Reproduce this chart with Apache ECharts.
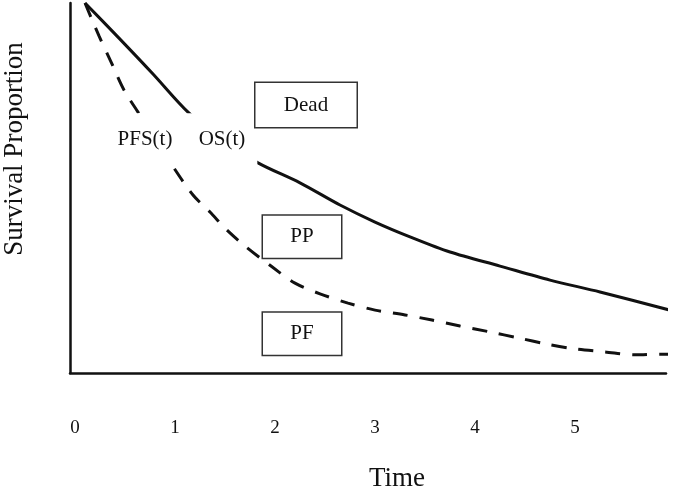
<!DOCTYPE html>
<html>
<head>
<meta charset="utf-8">
<script src="https://cdn.jsdelivr.net/npm/echarts@6/dist/echarts.min.js"></script>
<style>
  html, body { margin: 0; padding: 0; background: #fff; }
  #chart { width: 677px; height: 489px; }
</style>
</head>
<body>
<div id="chart"></div>
<script>
const INK = "#111";
const FONT = "'Liberation Serif', 'Times New Roman', serif";

// x tick labels
const tickValues = [0, 1, 2, 3, 4, 5];

// overall survival OS(t), solid
const osTime = [0.10, 0.44, 0.78, 1.13, 1.48, 1.83, 2.25, 2.65, 3.00, 3.35, 3.75, 4.25, 4.75, 5.25, 5.95];
const osSurv = [1.00, 0.905, 0.808, 0.705, 0.630, 0.568, 0.514, 0.454, 0.408, 0.368, 0.327, 0.289, 0.251, 0.219, 0.170];

// progression-free survival PFS(t), dashed
const pfsTime = [0.10, 0.24, 0.36, 0.49, 0.63, 0.97, 1.18, 1.35, 1.52, 1.71, 1.96, 2.20, 2.45, 2.73, 3.00, 3.30, 3.57, 3.85, 4.15, 4.43, 4.72, 5.00, 5.30, 5.60, 5.87, 5.95];
const pfsSurv = [1.00, 0.911, 0.841, 0.765, 0.705, 0.562, 0.481, 0.435, 0.386, 0.341, 0.289, 0.243, 0.214, 0.189, 0.170, 0.157, 0.143, 0.127, 0.111, 0.095, 0.078, 0.065, 0.057, 0.049, 0.051, 0.051];

// state boxes and curve names
const stateNames = ["Dead", "PP", "PF"];
const curveNames = ["PFS(t)", "OS(t)"];

const zip = (xs, ys) => xs.map((x, i) => [x, ys[i]]);

const chart = echarts.init(document.getElementById("chart"), null, { renderer: "canvas" });

// where the annotations sit, in data units
const stateAt = [[2.31, 0.724], [2.27, 0.368], [2.27, 0.106]];
const stateBox = [
  { width: 101, height: 44, padding: 0 },
  { width: 78, height: 42, padding: 0 },
  { width: 78, height: 36, padding: [6, 0, 0, 0] },
];
const curveAt = [[0.70, 0.632], [1.47, 0.632]];
const curvePad = [[15, 2], [15, 12]];

chart.setOption({
  animation: false,
  grid: { left: 70, right: 11, top: 3, bottom: 116, outerBoundsMode: "none" },
  xAxis: {
    type: "value",
    min: -0.05,
    max: 5.91,
    name: "Time",
    nameLocation: "middle",
    nameGap: 92,
    nameTextStyle: { color: INK, fontFamily: FONT, fontSize: 27, padding: [0, 0, 0, 58] },
    axisLine: { onZero: false, lineStyle: { color: INK, width: 2.5 } },
    axisTick: { show: false },
    splitLine: { show: false },
    axisLabel: {
      customValues: tickValues,
      color: INK,
      fontFamily: FONT,
      fontSize: 19,
      margin: 46,
    },
  },
  yAxis: {
    type: "value",
    min: 0,
    max: 1,
    name: "Survival Proportion",
    nameLocation: "middle",
    nameGap: 42,
    nameTextStyle: { color: INK, fontFamily: FONT, fontSize: 27, padding: [0, 0, 0, 78] },
    axisLine: { show: true, onZero: false, lineStyle: { color: INK, width: 2.5 } },
    axisTick: { show: false },
    axisLabel: { show: false },
    splitLine: { show: false },
  },
  series: [
    {
      type: "line",
      data: zip(osTime, osSurv),
      smooth: 0.3,
      showSymbol: false,
      lineStyle: { color: INK, width: 3 },
    },
    {
      type: "line",
      data: zip(pfsTime, pfsSurv),
      smooth: 0.3,
      showSymbol: false,
      lineStyle: { color: INK, width: 3, type: [15, 12] },
    },
    {
      // curve names, white backing hides the lines behind them
      type: "scatter",
      z: 5,
      symbolSize: 0,
      silent: true,
      itemStyle: { opacity: 1 },
      data: curveNames.map((n, i) => ({
        value: curveAt[i],
        label: { formatter: n, padding: curvePad[i] },
      })),
      label: {
        show: true,
        position: "inside",
        color: INK,
        fontFamily: FONT,
        fontSize: 21,
        lineHeight: 22,
        backgroundColor: "#fff",
      },
    },
    {
      // state boxes
      type: "scatter",
      z: 6,
      symbolSize: 0,
      silent: true,
      itemStyle: { opacity: 1 },
      data: stateNames.map((n, i) => ({
        value: stateAt[i],
        label: {
          formatter: n,
          width: stateBox[i].width,
          height: stateBox[i].height,
          lineHeight: stateBox[i].height,
          padding: stateBox[i].padding,
        },
      })),
      label: {
        show: true,
        position: "inside",
        align: "center",
        verticalAlign: "middle",
        color: INK,
        fontFamily: FONT,
        fontSize: 21,
        backgroundColor: "#fff",
        borderColor: "#333",
        borderWidth: 1.5,
      },
    },
  ],
});
</script>
</body>
</html>
